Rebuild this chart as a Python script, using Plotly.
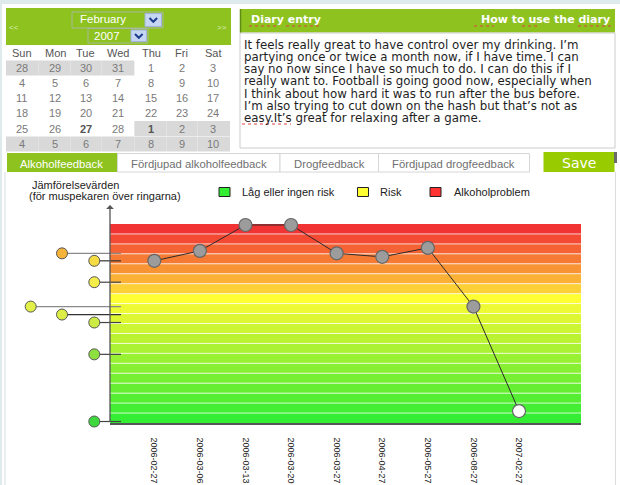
import plotly.graph_objects as go

W, H = 620, 485

# ---------------- data ----------------
dates = ["2006-02-27", "2006-03-06", "2006-03-13", "2006-03-20", "2006-03-27",
         "2006-04-27", "2006-05-27", "2006-08-27", "2007-02-27"]
scores = [32.6, 34.6, 39.8, 39.8, 34.1, 33.4, 35.2, 23.4, 2.4]
point_fill = ["#9c9c9c"] * 8 + ["#ffffff"]

compare_values = [34.1, 32.6, 28.3, 23.4, 21.8, 20.2, 13.8, 0.3]
compare_lane = [1, 0, 0, 2, 1, 0, 0, 0]
compare_colors = ["#f4b43a", "#f6dc44", "#f4ec48", "#e2f048", "#dcee46",
                  "#ccec44", "#8ee040", "#3ed83e"]
compare_line = ["#8a8a8a", "#333333", "#444444", "#8a8a8a", "#333333",
                "#444444", "#444444", "#444444"]

band_step = 2
band_colors = ["#33ee33", "#44ee33", "#55ee33", "#66ee33", "#77ef33", "#88f033",
               "#99f133", "#aaf233", "#bbf333", "#ccf533", "#ddf733", "#eefa33",
               "#ffff33", "#fdd038", "#fbb036", "#f89433", "#f57a33", "#f56233",
               "#f44a33", "#f23333"]

legend_labels = ["Låg eller ingen risk", "Risk", "Alkoholproblem"]
legend_colors = ["#33ee33", "#ffff33", "#ff3333"]
compare_title = ["Jämförelsevärden", "(för muspekaren över ringarna)"]

tab_labels = ["Alkoholfeedback", "Fördjupad alkoholfeedback", "Drogfeedback",
              "Fördjupad drogfeedback"]
save_label = "Save"

month_label = "February"
year_label = "2007"
weekdays = ["Sun", "Mon", "Tue", "Wed", "Thu", "Fri", "Sat"]
calendar_days = [[28, 29, 30, 31, 1, 2, 3],
                 [4, 5, 6, 7, 8, 9, 10],
                 [11, 12, 13, 14, 15, 16, 17],
                 [18, 19, 20, 21, 22, 23, 24],
                 [25, 26, 27, 28, 1, 2, 3],
                 [4, 5, 6, 7, 8, 9, 10]]
bold_days = [(4, 2), (4, 4)]

diary_title = "Diary entry"
diary_help = "How to use the diary"
diary_lines = [
    "It feels really great to have control over my drinking. I’m",
    "partying once or twice a month now, if I have time. I can",
    "say no now since I have so much to do. I can do this if I",
    "really want to. Football is going good now, especially when",
    "I think about how hard it was to run after the bus before.",
    "I’m also trying to cut down on the hash but that’s not as",
    "easy.It’s great for relaxing after a game.",
]

# ---------------- layout helpers ----------------
GREEN = "#8dc21f"
shapes = []
annotations = []


def rect(x0, y0, x1, y1, fill, line=None, lw=1):
    shapes.append(dict(type="rect", xref="x2", yref="y2", x0=x0, y0=y0, x1=x1, y1=y1,
                       fillcolor=fill, line=dict(color=line or fill, width=lw if line else 0),
                       layer="below"))


def hline(x0, x1, y, color, width=1, dash="solid"):
    shapes.append(dict(type="line", xref="x2", yref="y2", x0=x0, x1=x1, y0=y, y1=y,
                       line=dict(color=color, width=width, dash=dash)))


def vline(x, y0, y1, color, width=1):
    shapes.append(dict(type="line", xref="x2", yref="y2", x0=x, x1=x, y0=y0, y1=y1,
                       line=dict(color=color, width=width)))


def text(x, y, s, size=11, color="#222", xanchor="center", family="Liberation Sans", bold=False):
    if bold:
        s = "<b>" + s + "</b>"
    annotations.append(dict(x=x, y=y, xref="x2", yref="y2", text=s, showarrow=False,
                            xanchor=xanchor, yanchor="middle",
                            font=dict(size=size, color=color, family=family)))


# page frame
rect(0, 0, 620, 4, "#dfeaec")
vline(1, 0, 485, "#dfeaec", 2)
vline(5, 172, 485, "#d6dfe3", 1)
vline(615.5, 172, 485, "#dcdcdc", 1)

# ---- calendar ----
rect(6, 8, 231, 45, GREEN)
rect(72, 12, 163, 28, GREEN, "#a9b89a", 1)
rect(145, 13.5, 161.5, 26.5, "#c6d6f2", "#9fb4d8", 1)
rect(88, 28.5, 148, 43, GREEN, "#a9b89a", 1)
rect(131, 30, 146.5, 41.5, "#c6d6f2", "#9fb4d8", 1)
shapes.append(dict(type="path", xref="x2", yref="y2", path="M 149.5 18 L 153.3 21.8 L 157.1 18",
                   line=dict(color="#1c3c8c", width=2)))
shapes.append(dict(type="path", xref="x2", yref="y2", path="M 135 34 L 138.8 37.8 L 142.6 34",
                   line=dict(color="#1c3c8c", width=2)))
text(103, 18.5, month_label, 11.5, "#ffffff")
text(107, 35.5, year_label, 11.5, "#ffffff")
text(14, 27, "&lt;&lt;", 8, "#dcefb8")
text(222, 27, "&gt;&gt;", 8, "#dcefb8")

col_x = [21.7, 55, 85.7, 117.7, 151, 181.7, 213.3]
row_y = [68, 83, 98.3, 113.3, 128.5, 144]
row_h = 15
for r, week in enumerate(calendar_days):
    for c, d in enumerate(week):
        other = (r == 0 and d > 7) or (r >= 4 and d < 15)
        if other:
            x0 = 6 if c == 0 else (col_x[c - 1] + col_x[c]) / 2
            x1 = 230 if c == 6 else (col_x[c] + col_x[c + 1]) / 2
            rect(x0, row_y[r] - row_h / 2, x1, row_y[r] + row_h / 2, "#d9d9d9")
for c, wd in enumerate(weekdays):
    text(col_x[c], 53, wd, 11, "#555555")
for r, week in enumerate(calendar_days):
    for c, d in enumerate(week):
        b = (r, c) in bold_days
        text(col_x[c], row_y[r], str(d), 11, "#555555" if b else "#7a7a7a", bold=b)

# ---- diary ----
rect(240, 9, 615, 32.5, GREEN)
vline(240.5, 9, 32.5, "#5f8c12", 1.5)
text(249, 19.5, diary_title, 11, "#ffffff", "left", "DejaVu Sans", True)
text(612, 19.5, diary_help, 11, "#ffffff", "right", "DejaVu Sans", True)
rect(240, 33, 615, 148, "#ffffff", "#cccccc", 1)
for i, ln in enumerate(diary_lines):
    text(241.5, 44.5 + i * 12.3, ln, 11.8, "#1e1e1e", "left", "DejaVu Sans")
for x0, x1 in [(249, 278), (286, 322), (474, 494), (522, 538), (578, 611)]:
    hline(x0, x1, 26, "#e04040", 1, "dot")
hline(242, 291, 124, "#e04040", 1, "dot")

# ---- tabs ----
tab_edges = [7, 117.5, 280, 378.5, 529.5]
tab_centers = [61.5, 199, 329, 453.5]
for i, lab in enumerate(tab_labels):
    if i == 0:
        rect(tab_edges[i], 153, tab_edges[i + 1], 172, GREEN)
        text(tab_centers[i], 164, lab, 11.3, "#ffffff")
    else:
        rect(tab_edges[i], 153.5, tab_edges[i + 1], 172, "#ffffff", "#d6d6d6", 1)
        text(tab_centers[i], 164, lab, 11.3, "#707070")
rect(543.5, 152, 614.5, 172, "#99cc00")
rect(614, 152, 617, 163, "#6a6a6a")
text(579, 162.5, save_label, 14, "#ffffff", family="DejaVu Sans")

# ---- legend ----
text(30, 184.5, compare_title[0], 11, "#222222", "left")
text(26.5, 195.5, compare_title[1], 11, "#222222", "left")
legend_sq = [219, 357.5, 430]
legend_tx = [240, 378, 452]
for i in range(3):
    rect(legend_sq[i], 187.5, legend_sq[i] + 11, 196.5, legend_colors[i], "#222222", 1)
    text(legend_tx[i], 191.5, legend_labels[i], 11, "#222222", "left")

# ---- gradient bands (data coordinates) ----
for k, col in enumerate(band_colors):
    shapes.append(dict(type="rect", xref="x domain", yref="y", x0=0, x1=1,
                       y0=k * band_step, y1=(k + 1) * band_step,
                       fillcolor=col, line=dict(width=0), layer="below"))
for k in range(1, len(band_colors)):
    shapes.append(dict(type="line", xref="x domain", yref="y", x0=0, x1=1,
                       y0=k * band_step, y1=k * band_step,
                       line=dict(color="rgba(255,255,255,0.75)", width=1), layer="below"))

# y-axis arrow
annotations.append(dict(x=110, y=205, xref="x2", yref="y2", ax=110, ay=423.5,
                        axref="x2", ayref="y2", showarrow=True, text="",
                        arrowhead=1, arrowsize=1, arrowwidth=1.3, arrowcolor="#555555"))

# ---------------- traces ----------------
fig = go.Figure()

fig.add_trace(go.Scatter(x=[0, W], y=[0, H], xaxis="x2", yaxis="y2", mode="markers",
                         marker=dict(opacity=0), hoverinfo="skip", showlegend=False))

lane_x = [94.3, 62, 30.7]
line_end = 121
for v, lane, mc, lc in zip(compare_values, compare_lane, compare_colors, compare_line):
    fig.add_trace(go.Scatter(x=[lane_x[lane], line_end], y=[v, v], xaxis="x2", yaxis="y",
                             mode="lines", line=dict(color=lc, width=1.2),
                             hoverinfo="skip", showlegend=False, cliponaxis=False))
fig.add_trace(go.Scatter(x=[lane_x[l] for l in compare_lane], y=compare_values,
                         xaxis="x2", yaxis="y", mode="markers",
                         marker=dict(size=11, color=compare_colors,
                                     line=dict(color="#555555", width=1)),
                         hoverinfo="skip", showlegend=False, cliponaxis=False))

fig.add_trace(go.Scatter(x=dates, y=scores, mode="lines+markers",
                         line=dict(color="#2a2a2a", width=1),
                         marker=dict(size=13, color=point_fill,
                                     line=dict(color="#666666", width=1.2)),
                         showlegend=False, cliponaxis=False))

x_px0, x_px1 = 110, 581
y_px_bot, y_px_top = 423, 224
p0, step = 154.3, 45.59

fig.update_layout(
    width=W, height=H,
    margin=dict(l=0, r=0, t=0, b=0),
    paper_bgcolor="#ffffff", plot_bgcolor="rgba(0,0,0,0)",
    showlegend=False, hovermode=False,
    shapes=shapes, annotations=annotations,
    xaxis=dict(domain=[x_px0 / W, x_px1 / W], type="category",
               range=[(x_px0 - p0) / step, (x_px1 - p0) / step],
               showgrid=False, zeroline=False, showline=True, linecolor="#555555",
               linewidth=1.5, ticks="outside", ticklen=11, tickcolor="rgba(0,0,0,0)",
               tickangle=90, tickfont=dict(size=9, color="#222222", family="Liberation Sans"),
               fixedrange=True),
    yaxis=dict(domain=[(H - y_px_bot) / H, (H - y_px_top) / H], range=[0, 40],
               showgrid=False, zeroline=False, showticklabels=False, ticks="",
               fixedrange=True),
    xaxis2=dict(domain=[0, 1], range=[0, W], visible=False, anchor="y2", fixedrange=True),
    yaxis2=dict(domain=[0, 1], range=[H, 0], visible=False, anchor="x2", fixedrange=True),
)

fig.write_html("out.html", config={"displayModeBar": False},
               post_script="document.body.style.margin='0';document.body.style.overflow='hidden';")
